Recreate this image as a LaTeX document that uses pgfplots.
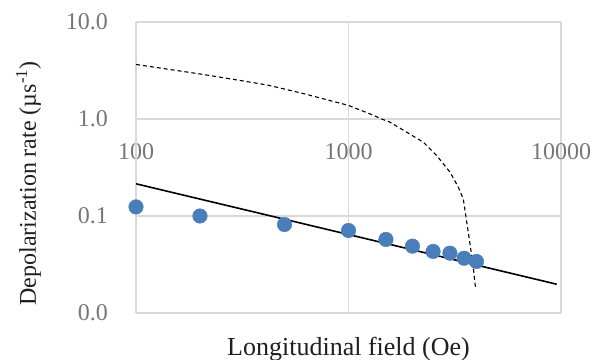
\documentclass[border=0pt]{standalone}
\usepackage{fontspec}
\setmainfont{Liberation Serif}
\usepackage{pgfplots}
\pgfplotsset{compat=1.18}
\definecolor{ptblue}{RGB}{74,126,187}
\definecolor{gridc}{RGB}{217,217,217}
\definecolor{axc}{RGB}{191,191,191}
\definecolor{tickc}{RGB}{118,118,118}
\begin{document}
\begin{tikzpicture}
\begin{axis}[
  xmode=log, ymode=log,
  scale only axis, width=425bp, height=291bp,
  xmin=100, xmax=10000, ymin=0.01, ymax=10,
  axis line style={draw=none},
  xtick={100,1000,10000}, xticklabels={100,1000,10000},
  ytick={0.01,0.1,10}, yticklabels={0.0,0.1,10.0},
  extra y ticks={1}, extra y tick labels={1.0},
  extra y tick style={grid style={axc, line width=1.5bp}},
  extra x ticks={100}, extra x tick labels={},
  extra x tick style={grid style={axc, line width=1.5bp}},
  xminorticks=false, yminorticks=false,
  major tick length=0pt,
  grid=major, major grid style={gridc, line width=1.3bp},
  tick label style={font=\fontsize{24bp}{28bp}\selectfont, text=tickc},
  xticklabel style={anchor=base, inner sep=0pt, yshift=153.7bp},
  yticklabel style={anchor=east, inner sep=0pt, xshift=-28bp},
  xlabel={Longitudinal field (Oe)},
  ylabel={Depolarization rate (µs\textsuperscript{-1})},
  xlabel style={font=\fontsize{26bp}{30bp}\selectfont, text=black!88, at={(axis description cs:0.5,-0.145)}, anchor=base},
  ylabel style={font=\fontsize{24bp}{28bp}\selectfont, text=black!88, at={(axis description cs:-0.2353,0.445)}, anchor=base},
  clip=false,
]
\coordinate (ax0) at (rel axis cs:0,0);
\addplot[only marks, mark=*, mark size=7.3bp, color=ptblue, mark options={draw=ptblue, fill=ptblue}] coordinates {
  (100,0.124) (200,0.100) (500,0.0817) (1000,0.0709) (1500,0.0573)
  (2000,0.0489) (2500,0.0431) (3000,0.0414) (3500,0.0367) (4000,0.0340)
};
\addplot[black, line width=1.6bp] coordinates {(100,0.2148) (9550,0.0198)};
\addplot[black, line width=1.1bp, dash pattern=on 4bp off 3bp] coordinates {
  (100,3.65) (207,2.88) (383,2.31) (427,2.21) (613,1.83) (1000,1.38)
  (1286,1.11) (1433,1.00) (1567,0.927) (1879,0.731) (2249,0.576)
  (2601,0.420) (3005,0.283) (3288,0.198) (3469,0.150) (3573,0.097)
  (3731,0.0516) (3866,0.0297) (3938,0.020) (3967,0.0185)
};
\end{axis}
\pgfresetboundingbox
\path (ax0) ++(-136bp,-47bp) rectangle ++(596bp,360bp);
\end{tikzpicture}
\end{document}
